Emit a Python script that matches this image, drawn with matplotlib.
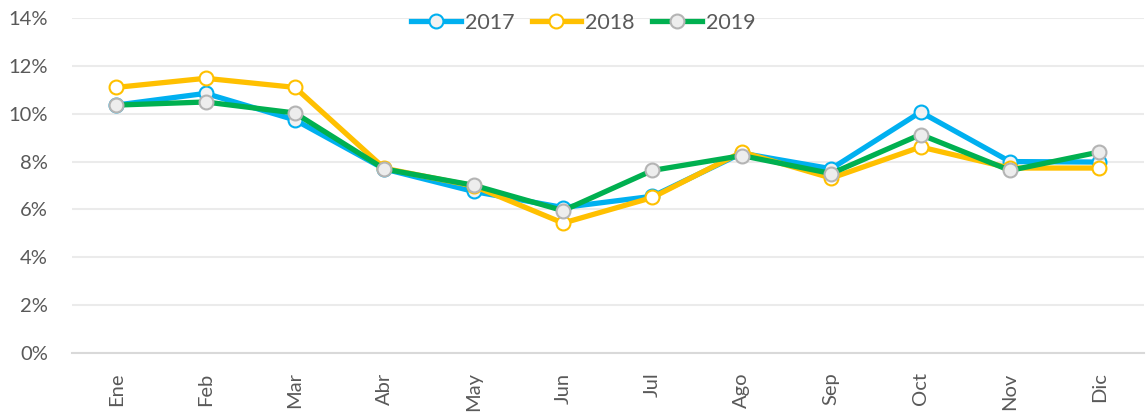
import numpy as np
import matplotlib
matplotlib.use("Agg")
import matplotlib.pyplot as plt
from matplotlib.ticker import PercentFormatter

months = ["Ene", "Feb", "Mar", "Abr", "May", "Jun",
          "Jul", "Ago", "Sep", "Oct", "Nov", "Dic"]
v2017 = [10.36, 10.85, 9.74, 7.69, 6.75, 6.08, 6.55, 8.35, 7.70, 10.07, 8.00, 7.98]
v2018 = [11.10, 11.48, 11.10, 7.72, 6.98, 5.43, 6.50, 8.40, 7.31, 8.61, 7.73, 7.73]
v2019 = [10.36, 10.49, 10.03, 7.69, 7.01, 5.95, 7.63, 8.25, 7.50, 9.13, 7.63, 8.40]

plt.rcParams["font.family"] = ["Lato", "DejaVu Sans"]
TXT = "#595959"

fig = plt.figure(figsize=(11.46, 4.12), dpi=100)
ax = fig.add_axes([0.0624, 0.1432, 0.9359, 0.8131])

x = np.arange(len(months))
styles = [
    ("2017", v2017, "#00B0F0", "#F2F2F2", "#00B0F0"),
    ("2018", v2018, "#FFC000", "white", "#FFC000"),
    ("2019", v2019, "#00B050", "#EDEDED", "#B4B4B4"),
]
for name, vals, col, face, edge in styles:
    ax.plot(x, vals, color=col, lw=3.8, marker="o", ms=10,
            mfc=face, mec=edge, mew=1.5, label=name, solid_joinstyle="round")

ax.set_xlim(-0.5, len(months) - 0.5)
ax.set_ylim(0, 14)
ax.set_yticks(np.arange(0, 15, 2))
ax.yaxis.set_major_formatter(PercentFormatter(decimals=0))
ax.set_xticks(x)
ax.set_xticklabels(months, rotation=90)
ax.tick_params(axis="y", length=0, pad=17, labelsize=14.5, labelcolor=TXT)
ax.tick_params(axis="x", length=0, pad=14, labelsize=14.5, labelcolor=TXT)
ax.grid(True, axis="y", color="#EBEBEB", lw=1.5)
ax.set_axisbelow(True)
for s in ["top", "right", "left"]:
    ax.spines[s].set_visible(False)
ax.spines["bottom"].set_color("#D9D9D9")
ax.spines["bottom"].set_linewidth(1.5)

leg = fig.legend(loc="center", bbox_to_anchor=(0.509, 0.945), ncol=3,
                 frameon=False, fontsize=15.5, handlelength=2.3,
                 columnspacing=0.8, handletextpad=0.2, labelcolor=TXT)

fig.savefig("out.png", dpi=100)
